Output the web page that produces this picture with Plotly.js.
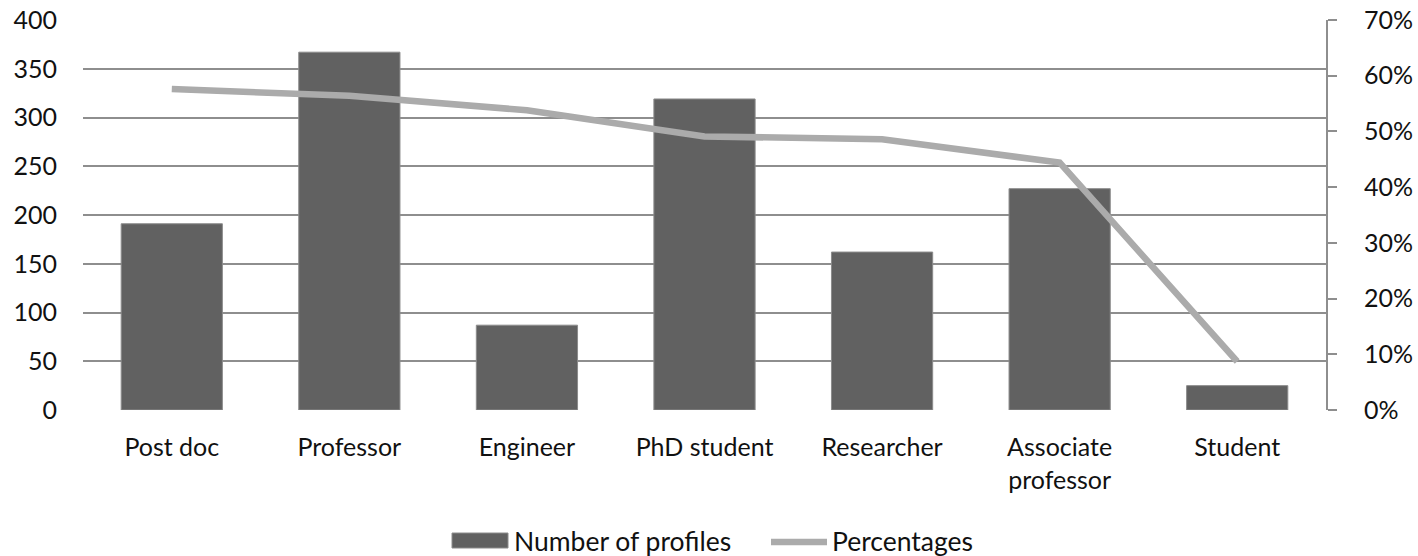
<!DOCTYPE html>
<html>
<head>
<meta charset="utf-8">
<script src="https://cdn.plot.ly/plotly-3.0.1.min.js"></script>
<style>html,body{margin:0;padding:0;background:#fff;}#chart{width:1418px;height:556px;}</style>
</head>
<body>
<div id="chart"></div>
<script>
const categories = ["Post doc", "Professor", "Engineer", "PhD student", "Researcher", "Associate<br>professor", "Student"];
const profiles = [191, 367, 87, 319, 162, 227, 25];
const percentages = [0.576, 0.564, 0.538, 0.491, 0.486, 0.444, 0.087];
const leftTicks = [0, 50, 100, 150, 200, 250, 300, 350, 400];
const rightTicks = [0, 0.1, 0.2, 0.3, 0.4, 0.5, 0.6, 0.7];
const seriesNames = ["Number of profiles", "Percentages"];

const FONT = "Lato, 'Open Sans', sans-serif";
const GRID = "#8e8e8e";
const FS = 25;

const traces = [
  {
    type: "bar", x: categories, y: profiles, name: seriesNames[0],
    marker: {color: "#616161", line: {color: "#8c8c8c", width: 1}},
    showlegend: false, hoverinfo: "x+y"
  },
  {
    type: "scatter", mode: "lines", x: categories, y: percentages, yaxis: "y2",
    name: seriesNames[1], line: {color: "#ababab", width: 6.5},
    showlegend: false
  }
];

const layout = {
  width: 1418, height: 556,
  margin: {l: 83, r: 92, t: 20, b: 146},
  paper_bgcolor: "#fff", plot_bgcolor: "#fff",
  font: {family: FONT, size: FS, color: "#111"},
  bargap: 0.43,
  xaxis: {
    type: "category", showgrid: false, showline: false, ticks: "",
    tickfont: {family: FONT, size: FS, color: "#111"},
    ticklabelstandoff: 20, zeroline: false, fixedrange: true
  },
  yaxis: {
    range: [0, 400], tickvals: leftTicks, showgrid: true, gridcolor: GRID, gridwidth: 2,
    showline: false, zeroline: false, ticks: "",
    tickfont: {family: FONT, size: FS, color: "#111"},
    ticklabelstandoff: 25, fixedrange: true
  },
  yaxis2: {
    overlaying: "y", side: "right", range: [0, 0.7], tickvals: rightTicks,
    tickformat: ".0%", showgrid: false, zeroline: false,
    showline: true, linecolor: GRID, linewidth: 2,
    ticks: "outside", ticklen: 9, tickwidth: 2, tickcolor: GRID,
    tickfont: {family: FONT, size: FS, color: "#111"},
    ticklabelstandoff: 22, fixedrange: true
  },
  shapes: [
    {type: "rect", xref: "paper", yref: "paper",
     x0: (452 - 83) / 1243, x1: (508 - 83) / 1243,
     y0: (410 - 548) / 390, y1: (410 - 533) / 390,
     fillcolor: "#616161", line: {color: "#8c8c8c", width: 1}},
    {type: "line", xref: "paper", yref: "paper",
     x0: (771 - 83) / 1243, x1: (827 - 83) / 1243,
     y0: (410 - 542) / 390, y1: (410 - 542) / 390,
     line: {color: "#ababab", width: 6.5}}
  ],
  annotations: [
    {xref: "paper", yref: "paper", x: (512 - 83) / 1243, y: (410 - 541) / 390,
     xanchor: "left", yanchor: "middle", showarrow: false, text: seriesNames[0],
     font: {family: FONT, size: 26.5, color: "#111"}},
    {xref: "paper", yref: "paper", x: (830 - 83) / 1243, y: (410 - 541) / 390,
     xanchor: "left", yanchor: "middle", showarrow: false, text: seriesNames[1],
     font: {family: FONT, size: 26.5, color: "#111"}}
  ]
};

Plotly.newPlot("chart", traces, layout, {displayModeBar: false, staticPlot: true});
</script>
</body>
</html>
